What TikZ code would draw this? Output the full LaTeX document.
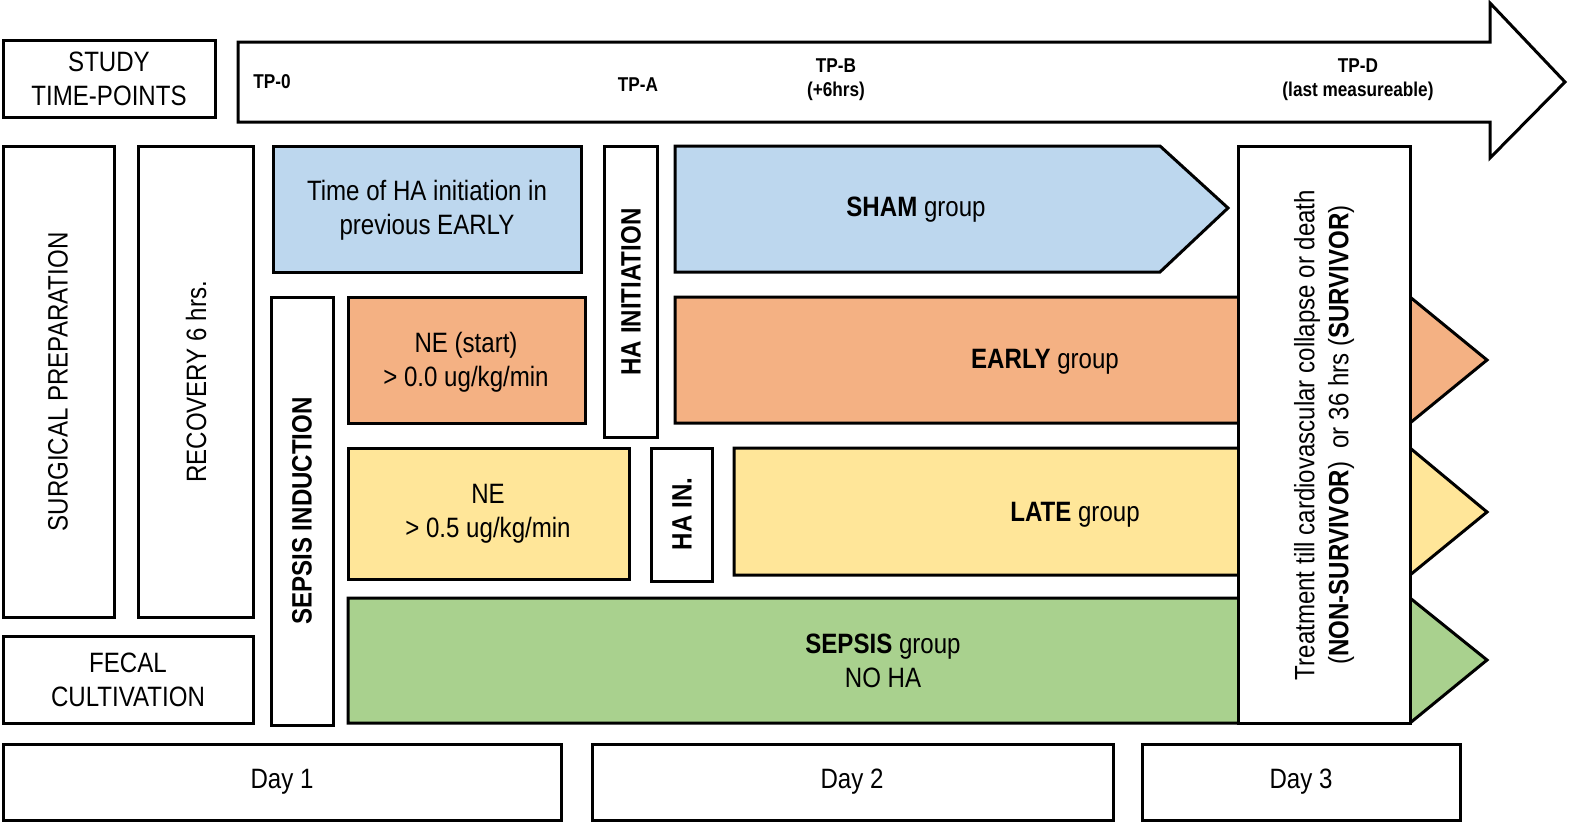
\documentclass[tikz,border=0pt]{standalone}
\usepackage{fontspec}
\setmainfont{Liberation Sans}[FakeStretch=0.86]
\usetikzlibrary{positioning}
\definecolor{shamblue}{RGB}{189,215,238}
\definecolor{earlyorange}{RGB}{244,177,131}
\definecolor{lateyellow}{RGB}{255,230,153}
\definecolor{sepsisgreen}{RGB}{169,209,142}
\tikzset{
  box/.style={draw, line width=1.5pt, fill=white},
  txt/.style={font=\fontsize{14}{17}\selectfont, align=center},
  tp/.style={font=\fontsize{10}{12}\selectfont\bfseries, align=center},
}
\begin{document}
\begin{tikzpicture}[x=0.5pt,y=-0.5pt]
  \useasboundingbox (0,0) rectangle (1594,836);
  % time line
  \draw[box] (238,42) -- (1490,42) -- (1490,3) -- (1565,82) -- (1490,158) -- (1490,122) -- (238,122) -- cycle;
  \draw[box] (3,40) rectangle (215,117);
  \node[txt] (study) at (109,79) {STUDY\\TIME-POINTS};
  \node[tp] (tp0) at (272,82) {TP-0};
  \node[tp] (tpa) at (638,85) {TP-A};
  \node[tp] (tpb) at (836,80) {TP-B\\(+6hrs)};
  \node[tp] (tpd) at (1358,80) {TP-D\\(last measureable)};
  % preparation
  \draw[box] (3,146) rectangle (114,617);
  \node[txt, rotate=90] (surg) at (58,382) {SURGICAL PREPARATION};
  \draw[box] (138,146) rectangle (253,617);
  \node[txt, rotate=90] (recov) at (196,382) {RECOVERY 6 hrs.};
  \draw[box] (3,636) rectangle (253,723);
  \node[txt] (fecal) at (128,680) {FECAL\\CULTIVATION};
  \draw[box] (271,297) rectangle (333,725);
  \node[txt, rotate=90, font=\fontsize{14}{17}\selectfont\bfseries] (induct) at (302,511) {SEPSIS INDUCTION};
  % groups
  \draw[box, fill=shamblue] (273,146) rectangle (581,272);
  \node[txt] (prev) at (427,210) {Time of HA initiation in\\previous EARLY};
  \draw[box] (604,146) rectangle (657,437);
  \node[txt, rotate=90, font=\fontsize{14}{17}\selectfont\bfseries] (hainit) at (631,292) {HA INITIATION};
  \draw[box, fill=shamblue] (675,146) -- (1160,146) -- (1228,208) -- (1160,272) -- (675,272) -- cycle;
  \node[txt] (sham) at (916,210) {\textbf{SHAM} group};
  \draw[box, fill=earlyorange] (348,297) rectangle (585,423);
  \node[txt] (nestart) at (466,362) {NE (start)\\> 0.0 ug/kg/min};
  \draw[box, fill=earlyorange] (675,297) -- (1410,297) -- (1487,360) -- (1410,423) -- (675,423) -- cycle;
  \node[txt] (early) at (1045,362) {\textbf{EARLY} group};
  \draw[box, fill=lateyellow] (348,448) rectangle (629,579);
  \node[txt] (nehigh) at (488,514) {NE\\> 0.5 ug/kg/min};
  \draw[box] (651,448) rectangle (712,581);
  \node[txt, rotate=90, font=\fontsize{14}{17}\selectfont\bfseries] (hain) at (682,514) {HA IN.};
  \draw[box, fill=lateyellow] (734,448) -- (1410,448) -- (1487,512) -- (1410,575) -- (734,575) -- cycle;
  \node[txt] (late) at (1075,515) {\textbf{LATE} group};
  \draw[box, fill=sepsisgreen] (348,598) -- (1410,598) -- (1487,660) -- (1410,723) -- (348,723) -- cycle;
  \node[txt] (sepsis) at (883,661) {\textbf{SEPSIS} group\\NO HA};
  % treatment
  \draw[box] (1238,146) rectangle (1410,723);
  \node[txt, rotate=90] (treat) at (1324,435) {Treatment till cardiovascular collapse or death\\(\textbf{NON-SURVIVOR}) \ or 36 hrs (\textbf{SURVIVOR})};
  % days
  \draw[box] (3,744) rectangle (561,820);
  \node[txt] (day1) at (282,782) {Day 1};
  \draw[box] (592,744) rectangle (1113,820);
  \node[txt] (day2) at (852,782) {Day 2};
  \draw[box] (1142,744) rectangle (1460,820);
  \node[txt] (day3) at (1301,782) {Day 3};
\end{tikzpicture}
\end{document}
